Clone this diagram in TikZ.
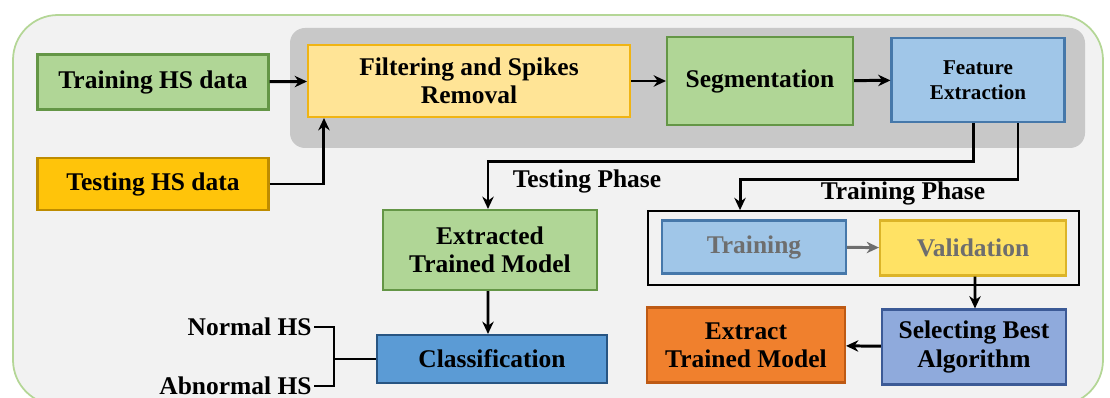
\documentclass[tikz,border=0pt]{standalone}
\usepackage{fontspec}
\setmainfont{Liberation Serif}
\usepackage{tikz}
\usetikzlibrary{arrows,arrows.meta,positioning,calc}

\definecolor{panelfill}{RGB}{242,242,242}
\definecolor{panelline}{RGB}{180,214,150}
\definecolor{grayfill}{RGB}{200,200,200}
\definecolor{greenfill}{RGB}{176,214,150}
\definecolor{greenline}{RGB}{100,150,70}
\definecolor{filterfill}{RGB}{255,228,150}
\definecolor{filterline}{RGB}{240,180,20}
\definecolor{testfill}{RGB}{255,196,10}
\definecolor{testline}{RGB}{190,140,0}
\definecolor{bluefill}{RGB}{160,198,232}
\definecolor{blueline}{RGB}{70,120,170}
\definecolor{validfill}{RGB}{255,226,100}
\definecolor{validline}{RGB}{220,180,40}
\definecolor{selectfill}{RGB}{143,170,220}
\definecolor{selectline}{RGB}{60,90,150}
\definecolor{classfill}{RGB}{91,155,213}
\definecolor{classline}{RGB}{40,85,130}
\definecolor{orangefill}{RGB}{240,128,45}
\definecolor{orangeline}{RGB}{190,90,20}
\definecolor{graytext}{RGB}{110,110,110}

\begin{document}
\begin{tikzpicture}[x=0.02cm,y=-0.02cm,>={Stealth[length=7pt,width=6.5pt]},
                thick,font=\fontsize{14.5}{16}\selectfont\bfseries,
                box/.style={draw,line width=1.2pt,align=center,inner sep=2pt},
                greenbox/.style={box,fill=greenfill,draw=greenline},
                link/.style={->,line width=1.7pt}]
  \useasboundingbox (0,0) rectangle (1110,398);
  \begin{scope}
    \clip (0,0) rectangle (1110,398);
    \draw[panelline,fill=panelfill,line width=1pt,rounded corners=0.9cm]
      (13,15) rectangle (1103,405);
  \end{scope}
  \fill[grayfill,rounded corners=0.3cm] (290,28) rectangle (1085,148);

  % input data
  \node[greenbox,minimum width=4.62cm,minimum height=1.1cm] (trainData) at (153,82) {Training HS data};
  \node[box,fill=testfill,draw=testline,minimum width=4.62cm,minimum height=1.04cm] (testData) at (153,184) {Testing HS data};

  % preprocessing
  \node[box,fill=filterfill,draw=filterline,minimum width=6.44cm,minimum height=1.44cm] (filter) at (469,81) {Filtering and Spikes\\Removal};
  \node[greenbox,minimum width=3.72cm,minimum height=1.76cm] (seg) at (760,81) {Segmentation};
  \node[box,fill=bluefill,draw=blueline,minimum width=3.46cm,minimum height=1.68cm,
        font=\fontsize{12}{14}\selectfont\bfseries] (feat) at (978,80) {Feature\\Extraction};

  % testing side
  \node[greenbox,minimum width=4.28cm,minimum height=1.6cm] (extracted) at (490,250) {Extracted\\Trained Model};
  \node[box,fill=classfill,draw=classline,minimum width=4.6cm,minimum height=0.96cm] (class) at (492,359) {Classification};
  \node[anchor=east,inner sep=1pt] (normal) at (314,327) {Normal HS};
  \node[anchor=east,inner sep=1pt] (abnormal) at (314,386) {Abnormal HS};

  % training side
  \node[draw,line width=1pt,minimum width=8.62cm,minimum height=1.48cm] (phase) at (863.5,248) {};
  \node[box,fill=bluefill,draw=blueline,text=graytext,minimum width=3.68cm,minimum height=1.06cm] (training) at (754,247) {Training};
  \node[box,fill=validfill,draw=validline,text=graytext,minimum width=3.72cm,minimum height=1.1cm] (valid) at (973,248) {Validation};
  \node[box,fill=selectfill,draw=selectline,minimum width=3.68cm,minimum height=1.5cm] (select) at (974,347) {Selecting Best\\Algorithm};
  \node[box,fill=orangefill,draw=orangeline,minimum width=3.96cm,minimum height=1.5cm] (extract) at (746,345) {Extract\\Trained Model};

  \node (testLabel) at (587,181) {Testing Phase};
  \node (trainLabel) at (903,193) {Training Phase};

  \draw[link] (trainData) -- (filter);
  \draw[link] (testData.east) -| ([xshift=0.34cm]filter.south west);
  \draw[link] (filter) -- (seg);
  \draw[link] (seg) -- (feat);
  \draw[link] ([xshift=-0.1cm]feat.south) -- ++(0,-0.76cm) -| ([xshift=-0.04cm]extracted.north);
  \draw[link] ([xshift=0.8cm]feat.south) -- ++(0,-1.12cm) -| ([xshift=-2.47cm]phase.north);
  \draw[link,graytext] (training) -- (valid);
  \draw[link] ([xshift=0.04cm]valid.south) -- ([xshift=0.02cm]select.north);
  \draw[link] (select) -- (extract);
  \draw[link] ([xshift=-0.04cm]extracted.south) -- ([xshift=-0.08cm]class.north);

  % bracket
  \draw[line width=1.6pt] (normal.east) -- (334,327) -- (334,386) -- (abnormal.east);
  \draw[line width=1.6pt] (334,359) -- (class.west);
\end{tikzpicture}
\end{document}
